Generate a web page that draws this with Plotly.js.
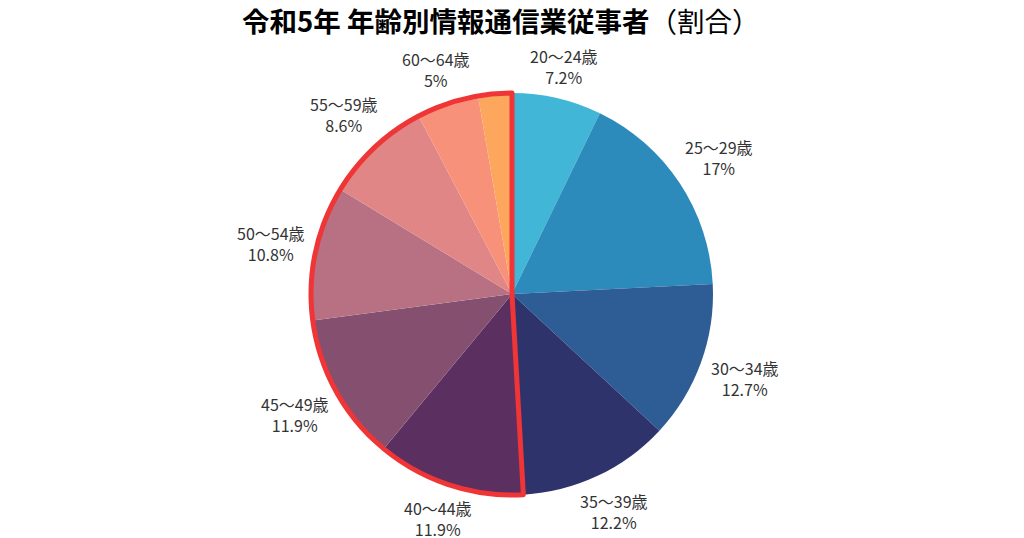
<!DOCTYPE html>
<html>
<head>
<meta charset="utf-8">
<script src="https://cdn.plot.ly/plotly-3.0.1.min.js"></script>
<style>html,body{margin:0;padding:0;background:#fff;}#chart{width:1024px;height:538px;}</style>
</head>
<body>
<div id="chart"></div>
<script>
const categories = ["20〜24歳","25〜29歳","30〜34歳","35〜39歳","40〜44歳","45〜49歳","50〜54歳","55〜59歳","60〜64歳","65歳以上"];
const shares = [7.2, 17, 12.7, 12.2, 11.9, 11.9, 10.8, 8.6, 5, 2.7];
const shareLabels = ["7.2%","17%","12.7%","12.2%","11.9%","11.9%","10.8%","8.6%","5%",""];
const showLabel = [true,true,true,true,true,true,true,true,true,false];
const highlighted = [false,false,false,false,true,true,true,true,true,true];
const colors = ["#41b6d7","#2d8bbb","#2e5d96","#2f336b","#5c2f61","#85506f","#b77183","#e08686","#f8917a","#fca65e"];

let restSum = 0, hiSum = 0, total = 0;
shares.forEach((v,i)=>{ total += v; if (highlighted[i]) hiSum += v; else restSum += v; });

const W = 1024, H = 538, cx = 512, cy = 294, r = 201;
const domain = {x:[(cx-r)/W, (cx+r)/W], y:[1-(cy+r)/H, 1-(cy-r)/H]};
const FONT = '"Noto Sans CJK JP", "Noto Sans", sans-serif';

const pie = {
  type:'pie', values: shares, labels: categories,
  textinfo:'none', sort:false, direction:'clockwise', rotation:0,
  marker:{colors: colors, line:{width:0}},
  domain: domain, hoverinfo:'none', showlegend:false
};
const outline = {
  type:'pie', values:[restSum, hiSum], labels:['rest','highlight'],
  textinfo:'none', sort:false, direction:'clockwise', rotation:0,
  marker:{colors:['rgba(0,0,0,0)','rgba(0,0,0,0)'], line:{color:['rgba(0,0,0,0)','#ef3535'], width:[0,5]}},
  domain: domain, hoverinfo:'none', showlegend:false
};

// labels placed just outside each slice, centred on its mid-angle (derived from the shares)
const boxW = 74, boxH = 40, gap = 5;
const annotations = [];
let cum = 0;
shares.forEach((v,i)=>{
  const mid = (cum + v/2) / total * 2*Math.PI;
  cum += v;
  if (!showLabel[i]) return;
  const s = Math.sin(mid), c = Math.cos(mid);
  const d = r + gap + Math.abs(s)*boxW/2 + Math.abs(c)*boxH/2;
  annotations.push({
    xref:'paper', yref:'paper', x:(cx + d*s)/W, y:1 - (cy - d*c)/H,
    xanchor:'center', yanchor:'middle', showarrow:false, align:'center',
    text: categories[i] + '<br>' + shareLabels[i],
    font:{family:FONT, size:16, color:'#333333'}
  });
});

const layout = {
  width:W, height:H, margin:{l:0,r:0,t:0,b:0},
  paper_bgcolor:'#ffffff', plot_bgcolor:'#ffffff',
  title:{text:'<b>令和5年 年齢別情報通信業従事者</b>（割合）', x:0.489, xanchor:'center', xref:'paper', y:1-22/H, yanchor:'middle', yref:'container',
    font:{family:FONT, size:27.5, color:'#000000'}},
  annotations: annotations,
  showlegend:false
};
Plotly.newPlot('chart', [pie, outline], layout, {displayModeBar:false, staticPlot:true});
</script>
</body>
</html>
